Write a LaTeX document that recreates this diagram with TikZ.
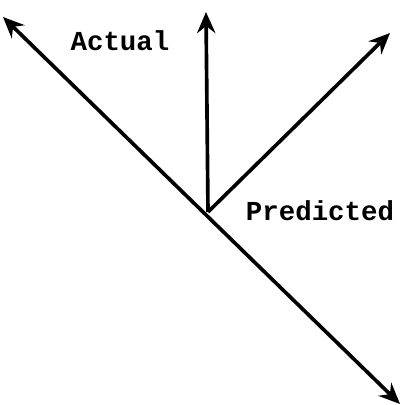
\documentclass[tikz,border=0pt]{standalone}
\usepackage{fontspec}
\setmonofont{Liberation Mono}
\usetikzlibrary{arrows.meta}
\begin{document}
\begin{tikzpicture}[x=0.025cm,y=-0.025cm,>={Stealth[length=15pt,width=13pt,inset=5pt]},
    vec/.style={line width=2.6pt,->},
    lbl/.style={font=\fontsize{19.5}{22}\selectfont\ttfamily\bfseries}]
  \useasboundingbox (0,0) rectangle (407,405);
  \coordinate (O) at (208,212);
  \coordinate (ul) at (3,17);
  \coordinate (lr) at (400,404);
  \coordinate (up) at (206,12);
  \coordinate (ur) at (390,33);
  \draw[vec,<->] (ul) -- (lr);
  \draw[vec] (O) -- (up);
  \draw[vec] (O) -- (ur);
  \node[lbl] (actual) at (120,41) {Actual};
  \node[lbl] (pred) at (320,211) {Predicted};
\end{tikzpicture}
\end{document}
